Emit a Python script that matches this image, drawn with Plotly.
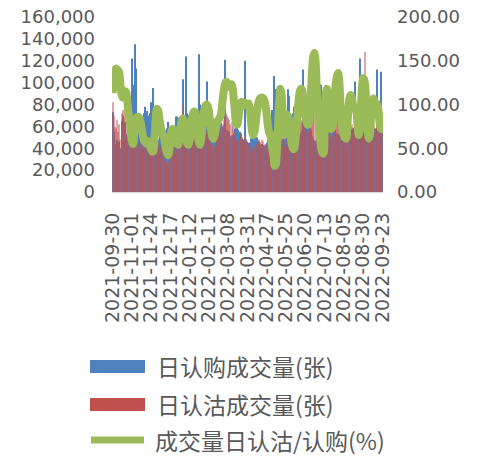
import pandas as pd
import plotly.graph_objects as go

# trading-day categories (China exchange calendar, 2021-09-30 .. 2022-09-23)
holidays = ['2021-10-01', '2021-10-04', '2021-10-05', '2021-10-06', '2021-10-07',
            '2022-01-03', '2022-01-31', '2022-02-01', '2022-02-02', '2022-02-03',
            '2022-02-04', '2022-04-04', '2022-04-05', '2022-05-02', '2022-05-03',
            '2022-05-04', '2022-06-03', '2022-09-12']
dates = [d.strftime('%Y-%m-%d') for d in
         pd.bdate_range('2021-09-30', '2022-09-23', freq='C', holidays=holidays)]

tick_labels = ['2021-09-30', '2021-11-01', '2021-11-24', '2021-12-17', '2022-01-12',
               '2022-02-11', '2022-03-08', '2022-03-31', '2022-04-27', '2022-05-25',
               '2022-06-20', '2022-07-13', '2022-08-05', '2022-08-30', '2022-09-23']

call_volume = [
    73000, 55000, 44000, 42000, 47000, 40000, 46000, 40000, 65000, 70000,
    61000, 64000, 53000, 50000, 61000, 59000, 75000, 122000, 98000, 80000,
    135000, 113000, 52000, 56000, 48000, 60000, 55000, 68000, 72000, 78000,
    74000, 70000, 68000, 72000, 82000, 78000, 95000, 68000, 58000, 48000,
    48000, 47000, 54000, 55000, 60000, 50000, 52000, 56000, 58000, 64000,
    58000, 55000, 54000, 56000, 60000, 57000, 69000, 69000, 65000, 68000,
    61000, 64000, 103000, 70000, 65000, 124000, 72000, 70000, 70000, 66000,
    60000, 60000, 57000, 53000, 55000, 62000, 126000, 80000, 70000, 64000,
    59000, 57000, 57000, 101000, 51000, 52000, 58000, 63000, 67000, 66000,
    65000, 62000, 62000, 61000, 62000, 63000, 63000, 60000, 57000, 121000,
    57000, 56000, 56000, 55000, 51000, 52000, 51000, 53000, 58000, 62000,
    60000, 57000, 55000, 53000, 49000, 48000, 46000, 120000, 48000, 46000,
    45000, 44000, 49000, 54000, 55000, 59000, 55000, 50000, 47000, 46000,
    43000, 42000, 44000, 43000, 42000, 43000, 45000, 50000, 59000, 65000,
    69000, 75000, 106000, 86000, 94000, 76000, 56000, 50000, 47000, 48000,
    56000, 62000, 60000, 56000, 55000, 94000, 88000, 62000, 69000, 72000,
    78000, 75000, 69000, 61000, 56000, 54000, 54000, 56000, 112000, 63000,
    67000, 70000, 70000, 72000, 65000, 57000, 51000, 49000, 47000, 47000,
    53000, 59000, 65000, 71000, 98000, 90000, 82000, 66000, 55000, 56000,
    59000, 62000, 67000, 69000, 68000, 63000, 57000, 54000, 53000, 53000,
    53000, 58000, 65000, 69000, 72000, 71000, 69000, 64000, 57000, 54000,
    54000, 57000, 58000, 59000, 101000, 61000, 64000, 74000, 122000, 61000,
    55000, 55000, 55000, 105000, 61000, 69000, 75000, 73000, 61000, 59000,
    58000, 58000, 58000, 112000, 59000, 66000, 72000, 110000, 70000]

put_volume = [
    82000, 70000, 60000, 58000, 66000, 55000, 62000, 48000, 72000, 75000,
    68000, 74000, 60000, 52000, 55000, 48000, 50000, 46000, 58000, 52000,
    48000, 52000, 42000, 45000, 40000, 44000, 38000, 42000, 40000, 44000,
    40000, 42000, 38000, 36000, 40000, 35000, 38000, 42000, 46000, 44000,
    45000, 40000, 42000, 38000, 40000, 32000, 30000, 28000, 26000, 27000,
    28000, 33000, 38000, 40000, 42000, 36000, 40000, 38000, 35000, 42000,
    46000, 52000, 80000, 55000, 44000, 42000, 40000, 38000, 42000, 48000,
    50000, 54000, 52000, 48000, 45000, 42000, 40000, 44000, 42000, 46000,
    50000, 54000, 56000, 52000, 50000, 48000, 46000, 44000, 42000, 40000,
    42000, 45000, 48000, 50000, 52000, 54000, 58000, 62000, 66000, 70000,
    72000, 70000, 68000, 66000, 62000, 64000, 60000, 56000, 52000, 48000,
    46000, 48000, 52000, 54000, 50000, 48000, 46000, 50000, 48000, 46000,
    45000, 42000, 40000, 38000, 36000, 40000, 42000, 44000, 46000, 48000,
    46000, 44000, 48000, 46000, 44000, 42000, 40000, 38000, 40000, 42000,
    40000, 36000, 32000, 30000, 32000, 38000, 44000, 52000, 56000, 54000,
    50000, 40000, 42000, 46000, 48000, 46000, 42000, 40000, 38000, 36000,
    38000, 42000, 48000, 54000, 58000, 62000, 64000, 66000, 64000, 60000,
    58000, 56000, 54000, 56000, 60000, 66000, 72000, 76000, 74000, 70000,
    64000, 56000, 50000, 44000, 40000, 38000, 36000, 46000, 60000, 66000,
    62000, 56000, 52000, 50000, 52000, 58000, 64000, 68000, 70000, 72000,
    66000, 58000, 52000, 48000, 46000, 44000, 42000, 48000, 54000, 58000,
    60000, 62000, 58000, 56000, 58000, 56000, 50000, 48000, 52000, 58000,
    66000, 72000, 70000, 128000, 58000, 50000, 46000, 48000, 54000, 60000,
    62000, 60000, 58000, 60000, 58000, 56000, 54000, 60000, 64000]

put_call_ratio = [
    113, 128, 138, 141, 140, 139, 136, 122, 111, 108,
    112, 115, 114, 104, 90, 82, 70, 58, 55, 66,
    80, 85, 84, 86, 83, 78, 70, 63, 58, 57,
    55, 58, 56, 52, 49, 46, 47, 62, 82, 95,
    94, 86, 78, 70, 66, 64, 58, 50, 45, 42,
    48, 60, 70, 72, 70, 63, 58, 55, 54, 62,
    75, 82, 84, 80, 70, 60, 55, 54, 60, 72,
    84, 90, 92, 91, 82, 68, 58, 54, 60, 72,
    85, 94, 99, 100, 98, 92, 80, 70, 63, 61,
    65, 72, 78, 82, 84, 86, 92, 104, 115, 123,
    126, 125, 122, 120, 122, 123, 118, 105, 90, 78,
    77, 84, 95, 102, 103, 100, 99, 102, 101, 100,
    101, 95, 82, 70, 65, 68, 76, 88, 98, 104,
    107, 106, 108, 107, 104, 98, 88, 76, 68, 65,
    58, 48, 40, 30, 32, 50, 78, 105, 118, 112,
    90, 65, 70, 82, 88, 86, 76, 65, 55, 50,
    49, 56, 70, 88, 104, 114, 118, 117, 108, 95,
    86, 80, 77, 78, 92, 115, 140, 155, 159, 150,
    120, 95, 77, 62, 50, 45, 44, 70, 110, 118,
    105, 90, 78, 72, 76, 92, 112, 125, 133, 136,
    125, 100, 80, 70, 64, 62, 61, 75, 95, 108,
    111, 108, 100, 95, 96, 92, 78, 65, 72, 95,
    120, 130, 128, 118, 95, 72, 61, 66, 88, 102,
    107, 104, 100, 101, 98, 85, 75, 72, 90]

series_names = ['日认购成交量(张)', '日认沽成交量(张)', '成交量日认沽/认购(%)']
BLUE, RED, GREEN = '#4F81BD', '#C0504D', '#9BBB59'
TXT = '#595959'
TICKFONT = dict(family='DejaVu Sans', size=18, color=TXT)

fig = go.Figure()
fig.add_trace(go.Bar(x=dates, y=call_volume, name=series_names[0],
                     marker=dict(color=BLUE, opacity=1.0, line=dict(width=0))))
fig.add_trace(go.Bar(x=dates, y=put_volume, name=series_names[1],
                     marker=dict(color=RED, opacity=0.5, line=dict(width=0))))
fig.add_trace(go.Scatter(x=dates, y=put_call_ratio, name=series_names[2], yaxis='y2',
                         mode='lines', line=dict(color=GREEN, width=8, shape='spline',
                                                 smoothing=0.8)))

fig.update_layout(
    width=479, height=456,
    margin=dict(l=112, r=96, t=17, b=264, autoexpand=False),
    paper_bgcolor='white', plot_bgcolor='white',
    showlegend=False, barmode='overlay', bargap=0.1,
    xaxis=dict(type='category', tickmode='array', tickvals=tick_labels, ticktext=tick_labels,
               tickangle=-90, tickfont=dict(family='DejaVu Sans', size=19, color=TXT),
               showgrid=False, zeroline=False, showline=True, linecolor='#D9D9D9',
               linewidth=1, ticks='', ticklabelstandoff=12, automargin=False),
    yaxis=dict(range=[0, 160000], dtick=20000, tickformat=',d', showgrid=False,
               zeroline=False, showline=False, ticks='', tickfont=TICKFONT,
               ticklabelstandoff=16, automargin=False),
    yaxis2=dict(range=[0, 200], dtick=50, tickformat='.2f', overlaying='y', side='right',
                showgrid=False, zeroline=False, showline=False, ticks='', tickfont=TICKFONT,
                ticklabelstandoff=13, automargin=False),
)

# legend drawn in paper coordinates (wide swatches as in the original)
PL, PT, PW, PH = 112, 17, 271, 175

def px(xp):
    return (xp - PL) / PW

def py(yp):
    return (PT + PH - yp) / PH

fig.add_shape(type='rect', xref='paper', yref='paper', x0=px(90), x1=px(145),
              y0=py(373), y1=py(360), fillcolor=BLUE, line=dict(width=0))
fig.add_shape(type='rect', xref='paper', yref='paper', x0=px(90), x1=px(145),
              y0=py(411), y1=py(398), fillcolor=RED, line=dict(width=0))
fig.add_shape(type='line', xref='paper', yref='paper', x0=px(91), x1=px(144),
              y0=py(440), y1=py(440), line=dict(color=GREEN, width=7))
LEGFONT = dict(family='Noto Sans CJK SC', size=23, color=TXT)
for name, yy, xx in [(series_names[0], 366, 155), (series_names[1], 404, 155),
                     (series_names[2], 440, 153)]:
    fig.add_annotation(text=name, xref='paper', yref='paper', x=px(xx), y=py(yy),
                       xanchor='left', yanchor='middle', showarrow=False, font=LEGFONT)

fig.write_html('out.html', config={'displayModeBar': False},
               post_script="document.body.style.margin='0';document.body.style.padding='0';")
